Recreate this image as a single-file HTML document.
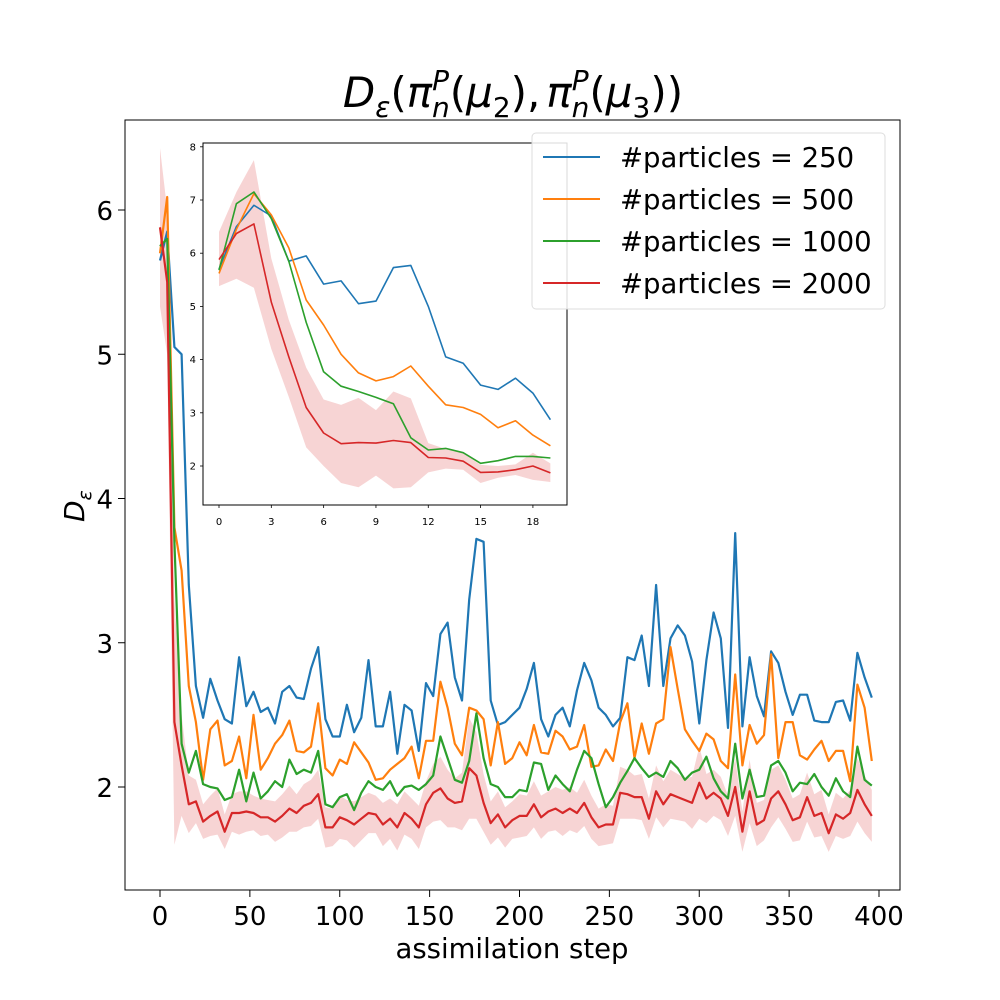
<!DOCTYPE html>
<html><head><meta charset="utf-8">
<style>
html,body{margin:0;padding:0;background:#fff;}
body{width:1000px;height:1000px;position:relative;overflow:hidden;font-family:"Liberation Sans","DejaVu Sans",sans-serif;}
svg{position:absolute;left:0;top:0;}
</style></head>
<body>
<svg id="chart" width="1000" height="1000" xmlns="http://www.w3.org/2000/svg">
  <text x="513" y="107" text-anchor="middle" font-size="42" font-family="DejaVu Sans, sans-serif" font-style="italic">D<tspan font-size="28" dy="10">ε</tspan><tspan dy="-10" font-style="normal">(</tspan>π<tspan font-size="28" dy="-17">P</tspan><tspan font-size="28" dx="-17" dy="27">n</tspan><tspan dy="-10" font-style="normal">(</tspan>μ<tspan font-size="28" dy="10" font-style="normal">2</tspan><tspan dy="-10" font-style="normal">),</tspan><tspan dx="6">π</tspan><tspan font-size="28" dy="-17">P</tspan><tspan font-size="28" dx="-17" dy="27">n</tspan><tspan dy="-10" font-style="normal">(</tspan>μ<tspan font-size="28" dy="10" font-style="normal">3</tspan><tspan dy="-10" font-style="normal">))</tspan></text>
  <text x="0" y="0" transform="translate(84,522) rotate(-90)" font-size="28" font-family="DejaVu Sans, sans-serif" font-style="italic">D<tspan font-size="19" dy="7">ε</tspan></text>
  <text x="512" y="958" text-anchor="middle" font-size="27.5" font-family="DejaVu Sans, sans-serif">assimilation step</text>
  <g id="main"></g>
  <g id="inset"></g>
  <g id="legend"></g>
</svg>
<script>
const steps=[];for(let i=0;i<100;i++)steps.push(i*4);
const s250=[5.65,5.85,5.05,5.0,3.4,2.7,2.48,2.75,2.6,2.47,2.44,2.9,2.56,2.66,2.52,2.55,2.44,2.66,2.7,2.62,2.61,2.82,2.97,2.47,2.35,2.35,2.57,2.38,2.48,2.88,2.42,2.42,2.66,2.23,2.57,2.53,2.25,2.72,2.63,3.06,3.14,2.76,2.6,3.3,3.72,3.7,2.6,2.43,2.45,2.5,2.55,2.68,2.86,2.47,2.35,2.5,2.55,2.42,2.67,2.86,2.74,2.55,2.5,2.42,2.48,2.9,2.88,3.05,2.7,3.4,2.7,3.03,3.12,3.05,2.87,2.44,2.88,3.21,3.03,2.41,3.76,2.42,2.9,2.63,2.49,2.94,2.86,2.66,2.5,2.64,2.64,2.46,2.45,2.45,2.59,2.6,2.46,2.93,2.76,2.62];
const s500=[5.7,6.09,3.8,3.5,2.7,2.45,2.05,2.4,2.46,2.15,2.18,2.35,2.06,2.5,2.12,2.2,2.3,2.36,2.46,2.25,2.24,2.28,2.58,2.13,2.08,2.19,2.16,2.31,2.24,2.17,2.05,2.06,2.12,2.16,2.2,2.28,2.06,2.32,2.32,2.73,2.55,2.3,2.22,2.55,2.53,2.47,2.15,2.45,2.16,2.2,2.31,2.22,2.43,2.24,2.23,2.39,2.35,2.26,2.28,2.43,2.14,2.15,2.26,2.18,2.45,2.58,2.2,2.44,2.23,2.44,2.47,2.97,2.68,2.4,2.32,2.25,2.37,2.33,2.18,2.13,2.78,2.15,2.43,2.3,2.36,2.92,2.2,2.45,2.45,2.22,2.19,2.26,2.32,2.18,2.25,2.25,2.04,2.71,2.55,2.18];
const s1000=[5.75,5.8,3.7,2.3,2.1,2.25,2.02,2.0,1.99,1.91,1.93,2.12,1.9,2.1,1.92,1.97,2.04,2.0,2.19,2.09,2.12,2.1,2.25,1.88,1.86,1.93,1.95,1.84,1.96,2.04,2.0,1.98,2.04,1.94,2.0,2.01,1.98,2.02,2.08,2.35,2.2,2.05,2.03,2.18,2.51,2.2,2.02,2.0,1.93,1.93,1.98,1.97,2.17,2.16,1.98,2.08,2.02,1.97,2.12,2.25,2.2,2.02,1.86,1.93,2.03,2.11,2.2,2.13,2.07,2.1,2.07,2.18,2.13,2.05,2.1,2.12,2.21,2.06,1.97,1.92,2.3,1.92,2.12,1.93,1.94,2.15,2.18,2.1,1.97,2.03,2.02,2.09,2.0,1.94,2.06,1.97,1.93,2.28,2.05,2.01];
const s2000=[5.88,5.5,2.45,2.15,1.88,1.9,1.76,1.8,1.83,1.69,1.82,1.82,1.83,1.82,1.79,1.79,1.76,1.8,1.85,1.82,1.87,1.89,1.95,1.72,1.72,1.79,1.77,1.74,1.78,1.82,1.81,1.74,1.78,1.72,1.82,1.78,1.72,1.88,1.96,1.99,1.92,1.89,1.9,2.13,2.08,1.89,1.75,1.81,1.72,1.77,1.8,1.8,1.88,1.79,1.83,1.85,1.82,1.85,1.82,1.89,1.79,1.72,1.74,1.74,1.96,1.95,1.93,1.93,1.78,1.97,1.88,1.95,1.93,1.91,1.89,2.03,1.92,1.96,1.92,1.8,2.0,1.69,1.97,1.74,1.77,1.92,1.97,1.88,1.77,1.79,1.93,1.8,1.82,1.68,1.81,1.78,1.82,1.98,1.88,1.8];
const spread2000=[0.55,0.5,0.85,0.35,0.2,0.15,0.12,0.14,0.16,0.12,0.13,0.15,0.14,0.12,0.13,0.12,0.14,0.15,0.16,0.13,0.15,0.16,0.17,0.14,0.13,0.15,0.14,0.16,0.15,0.14,0.13,0.15,0.14,0.16,0.15,0.14,0.15,0.16,0.2,0.22,0.2,0.17,0.2,0.35,0.3,0.2,0.15,0.16,0.14,0.13,0.15,0.14,0.16,0.15,0.14,0.15,0.16,0.15,0.14,0.16,0.15,0.13,0.14,0.13,0.18,0.17,0.15,0.16,0.14,0.18,0.16,0.17,0.16,0.15,0.18,0.25,0.17,0.16,0.15,0.14,0.2,0.14,0.22,0.15,0.14,0.2,0.18,0.17,0.15,0.16,0.17,0.15,0.16,0.13,0.15,0.14,0.16,0.22,0.2,0.18];
const xTicks=[0,50,100,150,200,250,300,350,400];
const yTicks=[2,3,4,5,6];
const insetIdx=[0,1,2,3,4,5,6,7,8,9,10,11,12,13,14,15,16,17,18,19];
const i250=[5.7,6.5,6.9,6.7,5.85,5.95,5.42,5.48,5.05,5.1,5.73,5.77,5.0,4.05,3.93,3.52,3.44,3.65,3.37,2.87];
const i500=[5.62,6.45,7.12,6.72,6.1,5.12,4.65,4.1,3.75,3.6,3.68,3.88,3.5,3.15,3.1,2.97,2.72,2.85,2.58,2.38];
const i1000=[5.68,6.93,7.15,6.65,5.85,4.7,3.77,3.5,3.4,3.29,3.17,2.53,2.3,2.33,2.25,2.05,2.1,2.18,2.18,2.15];
const i2000=[5.88,6.37,6.55,5.08,4.05,3.1,2.62,2.42,2.44,2.43,2.48,2.44,2.16,2.15,2.09,1.88,1.89,1.93,2.0,1.87];
const iLo=[5.38,5.52,5.35,4.2,3.3,2.35,2.0,1.68,1.6,1.82,1.58,1.6,1.88,1.95,1.93,1.68,1.78,1.83,1.74,1.7];
const iHi=[6.4,7.15,7.75,5.9,4.75,3.85,3.25,3.15,3.28,3.05,3.4,3.27,2.43,2.32,2.24,2.02,2.0,2.03,2.25,2.05];
const iXTicks=[0,3,6,9,12,15,18];
const iYTicks=[2,3,4,5,6,7,8];
const labels=["#particles = 250","#particles = 500","#particles = 1000","#particles = 2000"];
const colors=["#1f77b4","#ff7f0e","#2ca02c","#d62728"];

const NS="http://www.w3.org/2000/svg";
function mk(tag,attrs,parent){const e=document.createElementNS(NS,tag);for(const k in attrs)e.setAttribute(k,attrs[k]);parent.appendChild(e);return e;}

const mx=v=>160+v*1.7975, my=v=>787-(v-2)*144.25;
const main=document.getElementById('main');
let bp="";steps.forEach((s,i)=>{bp+=(i?"L":"M")+mx(s)+","+my(s2000[i]+spread2000[i]);});
for(let i=steps.length-1;i>=0;i--)bp+="L"+mx(steps[i])+","+my(s2000[i]-spread2000[i]);
const band=mk('path',{d:bp+"Z",fill:"#d62728","fill-opacity":"0.2",stroke:"none"},main);


[s250,s500,s1000,s2000].forEach((ser,k)=>{
  const p=mk('path',{d:ser.map((v,i)=>(i?"L":"M")+mx(steps[i]).toFixed(1)+","+my(v).toFixed(1)).join(""),fill:"none",stroke:colors[k],"stroke-width":"2.2","stroke-linejoin":"round"},main);
  
  
});
const frame=mk('rect',{x:125,y:120,width:775,height:770,fill:"none",stroke:"#000","stroke-width":"1"},main);


xTicks.forEach(t=>{
  mk('line',{x1:mx(t),x2:mx(t),y1:890,y2:897,stroke:"#000"},main);
  const tx=mk('text',{x:mx(t),y:925,"text-anchor":"middle","font-size":"26","font-family":"DejaVu Sans, sans-serif"},main);tx.textContent=t;
  
  
});
yTicks.forEach(t=>{
  mk('line',{x1:118,x2:125,y1:my(t),y2:my(t),stroke:"#000"},main);
  const tx=mk('text',{x:113,y:my(t)+10,"text-anchor":"end","font-size":"26","font-family":"DejaVu Sans, sans-serif"},main);tx.textContent=t;
  
  
});

const ix=v=>219+v*17.44, iy=v=>466-(v-2)*53.2;
const inset=document.getElementById('inset');
mk('rect',{x:203,y:143,width:364,height:362,fill:"#fff",stroke:"none"},inset);
let ib="";insetIdx.forEach((s,i)=>{ib+=(i?"L":"M")+ix(s)+","+iy(iHi[i]);});
for(let i=insetIdx.length-1;i>=0;i--)ib+="L"+ix(insetIdx[i])+","+iy(iLo[i]);
const iband=mk('path',{d:ib+"Z",fill:"#d62728","fill-opacity":"0.2"},inset);


[i250,i500,i1000,i2000].forEach((ser,k)=>{
  const p=mk('path',{d:ser.map((v,i)=>(i?"L":"M")+ix(insetIdx[i]).toFixed(1)+","+iy(v).toFixed(1)).join(""),fill:"none",stroke:colors[k],"stroke-width":"1.6","stroke-linejoin":"round"},inset);
  
  
});
mk('rect',{x:203,y:143,width:364,height:362,fill:"none",stroke:"#000","stroke-width":"1"},inset);
iXTicks.forEach(t=>{
  mk('line',{x1:ix(t),x2:ix(t),y1:505,y2:508,stroke:"#000","stroke-width":"0.8"},inset);
  const tx=mk('text',{x:ix(t),y:525,"text-anchor":"middle","font-size":"10","font-family":"DejaVu Sans, sans-serif"},inset);tx.textContent=t;
  
  
});
iYTicks.forEach(t=>{
  mk('line',{x1:200,x2:203,y1:iy(t),y2:iy(t),stroke:"#000","stroke-width":"0.8"},inset);
  const tx=mk('text',{x:196,y:iy(t)+3.5,"text-anchor":"end","font-size":"10","font-family":"DejaVu Sans, sans-serif"},inset);tx.textContent=t;
  
  
});

const lg=document.getElementById('legend');
mk('rect',{x:532,y:133,width:353,height:176,rx:4,fill:"#fff","fill-opacity":"0.85",stroke:"#ddd"},lg);
labels.forEach((l,k)=>{
  const y=157+k*42;
  const ln=mk('line',{x1:543,x2:600,y1:y,y2:y,stroke:colors[k],"stroke-width":"2"},lg);
  
  
  const tx=mk('text',{x:620,y:y+10,"font-size":"27.5","font-family":"DejaVu Sans, sans-serif"},lg);tx.textContent=l;
  
  
});
</script>
</body></html>
